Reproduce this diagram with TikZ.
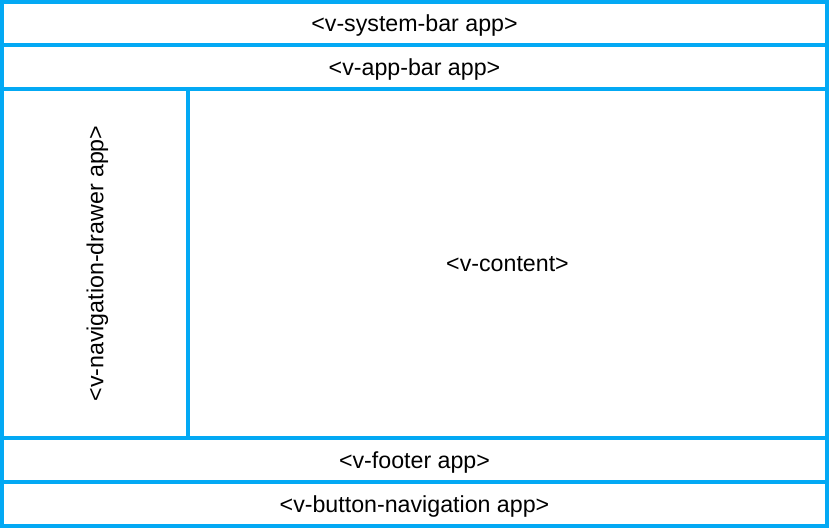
\documentclass[tikz,border=0pt]{standalone}
\usepackage{fontspec}
\setmainfont{Liberation Sans}
\definecolor{vblue}{HTML}{03A9F4}
\begin{document}
\begin{tikzpicture}[x=1pt,y=-1pt,
  label/.style={font=\fontsize{23.2}{27}\selectfont, text depth=0pt},
  region/.style={label, draw=vblue, line width=4pt, inner sep=0pt, outer sep=0pt}]
\useasboundingbox (0,0) rectangle (829,528);
\node[region, minimum width=825pt, minimum height=43pt] (sys) at (414.5,23.5) {<v-system-bar app>};
\node[region, minimum width=825pt, minimum height=44pt] (appbar) at (414.5,67) {<v-app-bar app>};
\node[region, minimum width=186pt, minimum height=349pt] (drawer) at (95,263.5) {};
\node[label, rotate=90] (drawertext) at (drawer.center) {<v-navigation-drawer app>};
\node[region, minimum width=639pt, minimum height=349pt] (content) at (507.5,263.5) {<v-content>};
\node[region, minimum width=825pt, minimum height=44pt] (footer) at (414.5,460) {<v-footer app>};
\node[region, minimum width=825pt, minimum height=44pt] (bottom) at (414.5,504) {<v-button-navigation app>};
\end{tikzpicture}
\end{document}
